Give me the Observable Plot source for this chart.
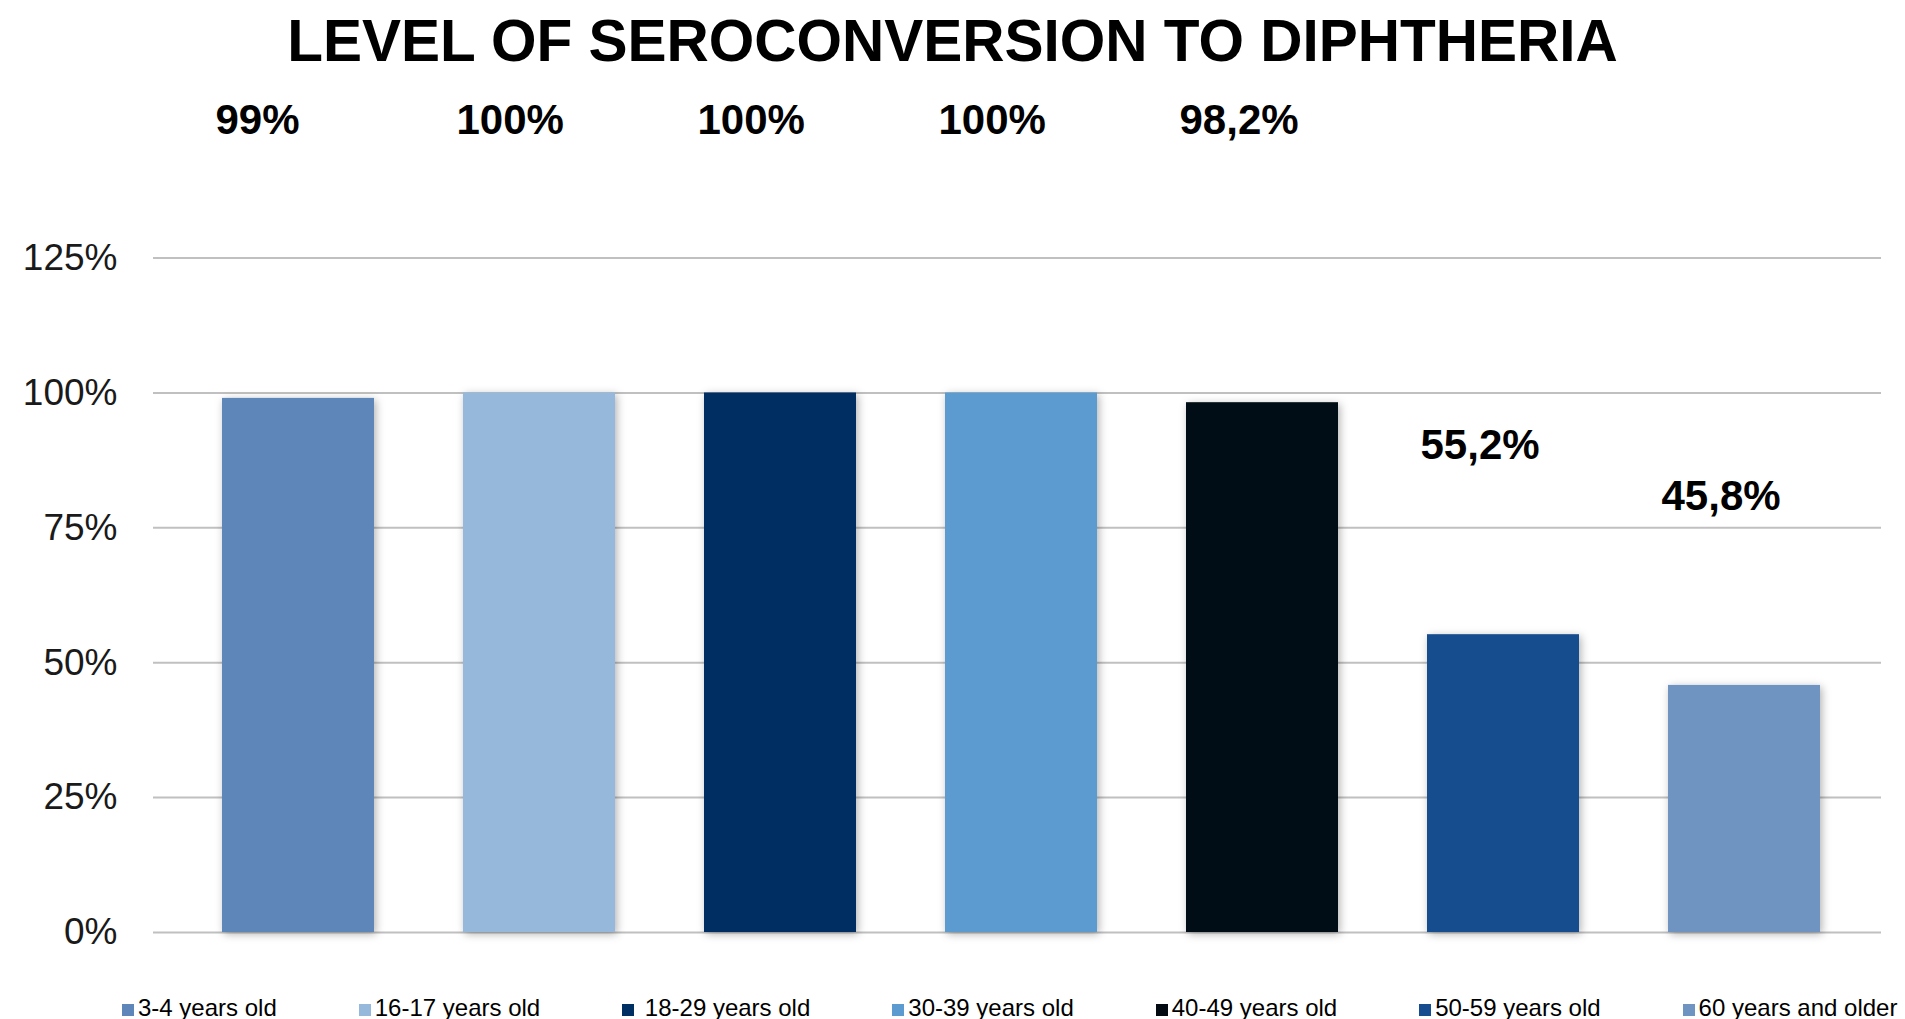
<!DOCTYPE html>
<html>
<head>
<meta charset="utf-8">
<script src="https://cdn.jsdelivr.net/npm/d3@7"></script>
<script src="https://cdn.jsdelivr.net/npm/@observablehq/plot@0.6"></script>
<style>
  html, body { margin: 0; padding: 0; background: #fff; width: 1905px; height: 1019px; overflow: hidden; }
  body { position: relative; font-family: "Liberation Sans", Arial, sans-serif; }
  #title { position: absolute; left: 0; top: 12px; width: 1905px; text-align: center; font-size: 58.5px; line-height: 1; font-weight: bold; color: #000; }
  #chart { position: absolute; left: 0; top: 80px; }
  #legend { position: absolute; left: 122px; top: 996px; display: flex; gap: 82px; font-size: 24px; line-height: 1; color: #000; white-space: nowrap; }
  .item { display: flex; align-items: baseline; }
  .item .t { white-space: pre; }
  .sw { display: inline-block; width: 12px; height: 12px; margin-right: 4px; }
</style>
</head>
<body>
<div id="title">LEVEL OF SEROCONVERSION TO DIPHTHERIA</div>
<div id="chart"></div>
<div id="legend"></div>
<script>
const categories = ["3-4 years old", "16-17 years old", " 18-29 years old", "30-39 years old", "40-49 years old", "50-59 years old", "60 years and older"];
const values = [99, 100, 100, 100, 98.2, 55.2, 45.8];
const colors = ["#5e86b8", "#95b8db", "#002f63", "#5b9bd0", "#030a12", "#174d8e", "#6f94c2"];
const yTicks = [0, 25, 50, 75, 100, 125];

const data = categories.map((c, i) => ({cat: c, value: values[i]}));
const fmt = d => (Number.isInteger(d.value) ? String(d.value) : d.value.toFixed(1).replace(".", ",")) + "%";

const labelStyle = {fontSize: 42, fontWeight: "bold", fill: "#000", textAnchor: "start", dx: -83};

const plot = Plot.plot({
  width: 1905,
  height: 880,
  marginLeft: 175,
  marginRight: 39,
  marginTop: 177.6,
  marginBottom: 28,
  x: {domain: categories, paddingInner: 0.37, paddingOuter: 0.185, axis: null},
  y: {domain: [0, 125]},
  color: {domain: categories, range: colors},
  style: {fontFamily: "Liberation Sans, Arial, sans-serif", background: "white", overflow: "visible"},
  marks: [
    Plot.ruleY(yTicks, {stroke: "#c0c0c0", strokeWidth: 2, insetLeft: -22, insetRight: -15}),
    Plot.axisY({ticks: yTicks, tickFormat: d => d + "%", tickSize: 0, tickPadding: 58, fontSize: 37, fill: "#1a1a1a", label: null}),
    Plot.barY(data, {x: "cat", y: "value", fill: "cat"}),
    Plot.text(data.filter(d => d.value >= 90), {x: "cat", text: fmt, frameAnchor: "top", dy: -154.4, ...labelStyle}),
    Plot.text(data.filter(d => d.value < 90), {x: "cat", y: "value", text: fmt, dy: -189, ...labelStyle})
  ]
});

// subtle drop shadow on bars, as in the original
const svg = d3.select(plot);
const defs = svg.insert("defs", ":first-child");
const f = defs.append("filter").attr("id", "shadow").attr("x", "-20%").attr("y", "-20%").attr("width", "140%").attr("height", "140%");
f.append("feDropShadow").attr("dx", 2).attr("dy", 2).attr("stdDeviation", 4).attr("flood-color", "#000").attr("flood-opacity", 0.3);
svg.selectAll("g[aria-label='bar']").attr("filter", "url(#shadow)");

document.getElementById("chart").appendChild(plot);

const legend = d3.select("#legend");
categories.forEach((c, i) => {
  const it = legend.append("div").attr("class", "item");
  it.append("span").attr("class", "sw").style("background", colors[i]);
  it.append("span").attr("class", "t").text(c);
});
</script>
</body>
</html>
